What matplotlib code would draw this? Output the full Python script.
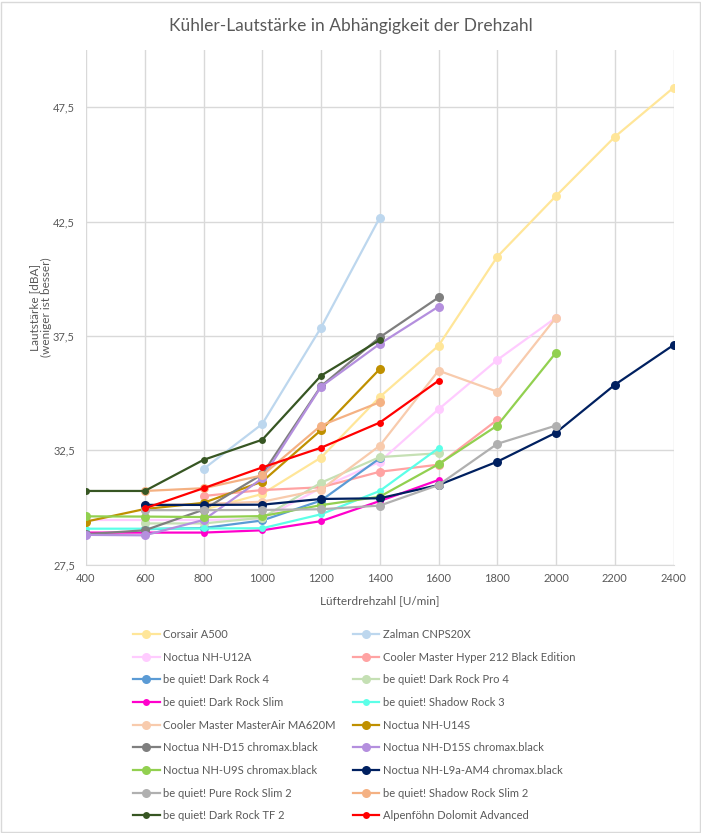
import numpy as np
import matplotlib
matplotlib.use('Agg')
import matplotlib.pyplot as plt
from matplotlib.patches import Rectangle

plt.rcParams['font.family'] = ['Lato', 'DejaVu Sans']

# Drehzahlen (U/min)
rpm = [400, 600, 800, 1000, 1200, 1400, 1600, 1800, 2000, 2200, 2400]
N = None

# Lautstärke in dBA, None = nicht gemessen
corsair_a500   = [N, N, 29.9, 30.59, 32.18, 34.83, 37.07, 40.96, 43.62, 46.2, 48.35]
zalman         = [N, N, 31.68, 33.65, 37.86, 42.67, N, N, N, N, N]
nh_u12a        = [29.45, 29.45, 29.45, 29.5, 30.85, 32.0, 34.29, 36.45, 38.3, N, N]
hyper212       = [N, N, 30.5, 30.76, 30.88, 31.56, 31.87, 33.83, N, N, N]
dark_rock4     = [N, 29.05, 29.1, 29.43, 30.3, 32.15, N, N, N, N, N]
dark_rock_pro4 = [N, 29.3, 29.3, 29.55, 31.08, 32.2, 32.37, N, N, N, N]
dark_rock_slim = [28.9, 28.9, 28.9, 29.0, 29.4, 30.28, 31.2, N, N, N, N]
shadow_rock3   = [29.07, 29.07, 29.08, 29.09, 29.7, 30.72, 32.59, N, N, N, N]
ma620m         = [N, 30.1, 30.15, 30.25, 30.78, 32.7, 35.98, 35.06, 38.3, N, N]
nh_u14s        = [29.38, 29.93, 30.2, 31.13, 33.38, 36.05, N, N, N, N, N]
nh_d15         = [28.83, 29.0, 29.9, 31.45, 35.3, 37.44, 39.18, N, N, N, N]
nh_d15s        = [28.8, 28.78, 29.45, 31.27, 35.28, 37.15, 38.78, N, N, N, N]
nh_u9s         = [29.61, 29.6, 29.58, 29.62, 30.1, 30.47, 31.89, 33.58, 36.77, N, N]
nh_l9a         = [N, 30.11, 30.11, 30.12, 30.37, 30.4, 30.98, 32.0, 33.27, 35.36, 37.1]
pure_rock_slim2   = [N, 29.88, 29.88, 29.89, 29.92, 30.08, 30.98, 32.78, 33.58, N, N]
shadow_rock_slim2 = [N, 30.72, 30.84, 31.4, 33.58, 34.6, N, N, N, N, N]
dark_rock_tf2  = [30.72, 30.72, 32.08, 32.96, 35.76, 37.32, N, N, N, N, N]
alpenfoehn     = [N, 29.96, 30.84, 31.75, 32.61, 33.71, 35.54, N, N, N, N]

namen = ['Corsair A500', 'Zalman CNPS20X', 'Noctua NH-U12A',
         'Cooler Master Hyper 212 Black Edition', 'be quiet! Dark Rock 4',
         'be quiet! Dark Rock Pro 4', 'be quiet! Dark Rock Slim',
         'be quiet! Shadow Rock 3', 'Cooler Master MasterAir MA620M',
         'Noctua NH-U14S', 'Noctua NH-D15 chromax.black',
         'Noctua NH-D15S chromax.black', 'Noctua NH-U9S chromax.black',
         'Noctua NH-L9a-AM4 chromax.black', 'be quiet! Pure Rock Slim 2',
         'be quiet! Shadow Rock Slim 2', 'be quiet! Dark Rock TF 2',
         'Alpenföhn Dolomit Advanced']
werte = [corsair_a500, zalman, nh_u12a, hyper212, dark_rock4, dark_rock_pro4,
         dark_rock_slim, shadow_rock3, ma620m, nh_u14s, nh_d15, nh_d15s,
         nh_u9s, nh_l9a, pure_rock_slim2, shadow_rock_slim2, dark_rock_tf2,
         alpenfoehn]
farben = ['#FFE699', '#BDD7EE', '#FFCCFF', '#FFA3A3', '#5B9BD5', '#C5E0B4',
          '#FF00CC', '#5CFFE8', '#F8CBAD', '#BF9000', '#7F7F7F', '#B48FDE',
          '#92D050', '#002060', '#B0B0B0', '#F4B183', '#375623', '#FF0000']
klein = ['be quiet! Dark Rock Slim', 'be quiet! Shadow Rock 3',
         'be quiet! Dark Rock TF 2', 'Alpenföhn Dolomit Advanced']

txt = '#595959'
grid = '#D9D9D9'

fig = plt.figure(figsize=(7.01, 8.33), dpi=100)
fig.patches.append(Rectangle((0.001, 0.001), 0.997, 0.997, transform=fig.transFigure,
                             fill=False, edgecolor=grid, lw=1))
ax = fig.add_axes([0.1227, 0.3222, 0.8381, 0.6178])

linien = []
for name, w, c in zip(namen, werte, farben):
    y = np.array([np.nan if v is None else v for v in w], dtype=float)
    ms = 5 if name in klein else 6.5
    l, = ax.plot(rpm, y, '-', color=c, lw=1.6, marker='o', ms=ms, mec=c, mew=0, label=name)
    linien.append(l)

ax.set_xlim(400, 2400)
ax.set_ylim(27.5, 50)
ax.set_xticks(rpm)
ax.set_yticks([27.5, 32.5, 37.5, 42.5, 47.5])
ax.set_yticklabels(['27,5', '32,5', '37,5', '42,5', '47,5'])
ax.grid(True, color=grid, lw=1)
ax.set_axisbelow(True)
for s in ['top', 'left', 'right']:
    ax.spines[s].set_visible(False)
ax.spines['bottom'].set_color(grid)
ax.tick_params(length=0, colors=txt, labelsize=8)
ax.tick_params(axis='y', pad=8)
ax.tick_params(axis='x', pad=6)

ax.set_xlabel('Lüfterdrehzahl [U/min]', color=txt, fontsize=8.5, labelpad=8)
ax.set_ylabel('Lautstärke [dBA]\n(weniger ist besser)', color=txt, fontsize=8.5,
              labelpad=1, linespacing=1.0)
fig.text(0.5, 1 - 26 / 833, 'Kühler-Lautstärke in Abhängigkeit der Drehzahl',
         ha='center', va='center', color=txt, fontsize=12.5)

# Excel-Legende zeilenweise, matplotlib füllt spaltenweise
reihenfolge = list(range(0, 18, 2)) + list(range(1, 18, 2))
leg = fig.legend([linien[i] for i in reihenfolge], [namen[i] for i in reihenfolge],
                 ncol=2, loc='upper left', bbox_to_anchor=(133 / 701, 1 - 629 / 833),
                 frameon=False, fontsize=8, borderpad=0, borderaxespad=0,
                 handlelength=2.4, handletextpad=0.3, columnspacing=1.55,
                 labelspacing=1.05)
for t in leg.get_texts():
    t.set_color(txt)

plt.savefig('out.png', dpi=100)
